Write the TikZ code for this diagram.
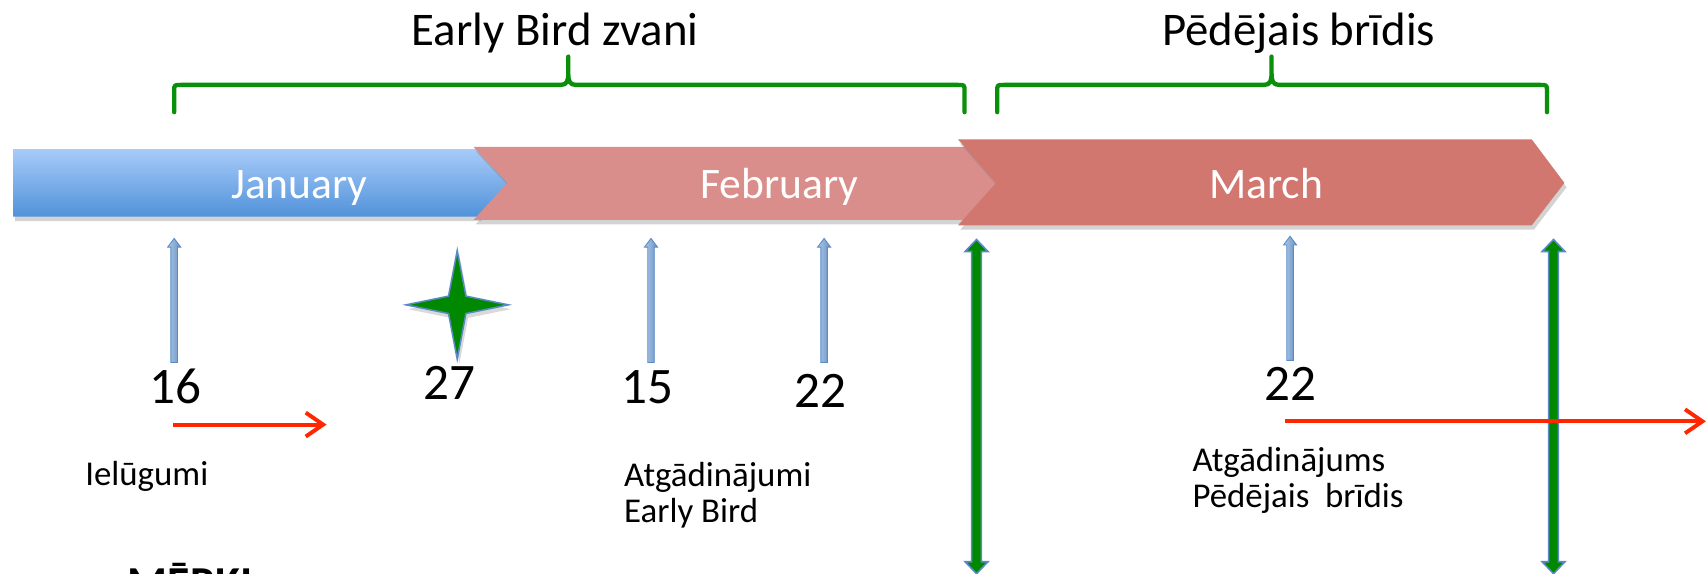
\documentclass[tikz,border=0pt]{standalone}
\usepackage{fontspec}
\setmainfont{Carlito}
\usetikzlibrary{arrows.meta,shadows}
\definecolor{janTop}{HTML}{A8CBF9}
\definecolor{janBot}{HTML}{5092DA}
\definecolor{febC}{HTML}{D98E8B}
\definecolor{marC}{HTML}{D27670}
\definecolor{brGreen}{HTML}{0A8F0A}
\definecolor{arGreen}{HTML}{008800}
\definecolor{arBlue}{HTML}{5A8AC6}
\definecolor{ltBlue}{HTML}{86B3E8}
\definecolor{redA}{HTML}{FF2600}
\tikzset{
  pics/tickup/.style={code={\path[tick] (-3,0) -- (-3,-106) -- (-6,-106) -- (0,-114) -- (6,-106) -- (3,-106) -- (3,0) -- cycle;}},
  pics/dblarrow/.style={code={\path[bigarr] (0,0) -- (10.5,11) -- (4.5,11) -- (4.5,296) -- (10.5,296) -- (0,307) -- (-10.5,296) -- (-4.5,296) -- (-4.5,11) -- (-10.5,11) -- cycle;}},
}
\begin{document}
\begin{tikzpicture}[x=0.5pt,y=-0.5pt,
  bar/.style={drop shadow={shadow xshift=1pt,shadow yshift=-2pt,opacity=0.35}},
  month/.style={text=white,font=\fontsize{20}{24}\selectfont,anchor=base},
  num/.style={font=\fontsize{23.5}{28}\selectfont,anchor=base},
  lbl/.style={font=\fontsize{16}{16.5}\selectfont,anchor=base west,align=left,inner sep=0pt},
  ttl/.style={font=\fontsize{21.5}{26}\selectfont,anchor=base},
  brace/.style={draw=brGreen,line width=2pt,line cap=round,line join=round},
  tick/.style={left color=ltBlue!70!white,right color=ltBlue!80!black,draw=arBlue,line width=0.4pt},
  bigarr/.style={fill=arGreen,draw=arBlue,line width=0.7pt},
  redarr/.style={draw=redA,line width=1.8pt,-{Straight Barb[length=8pt,width=11pt]}},
]
\useasboundingbox (0,0) rectangle (1568,527);

% month bars
\path[bar,top color=janTop,bottom color=janBot] (12,137) -- (440,137) -- (471,168) -- (440,199) -- (12,199) -- cycle;
\path[bar,fill=febC] (435,135) -- (893,135) -- (926,168) -- (893,202) -- (435,202) -- (466,168) -- cycle;
\path[bar,fill=marC] (880,128) -- (1407,128) -- (1437,168) -- (1407,207) -- (880,207) -- (915,168) -- cycle;
\node[month] (jan) at (275,182) {January};
\node[month] (feb) at (716,182) {February};
\node[month] (mar) at (1163,182) {March};

% braces and titles
\draw[brace] (160,103) -- (160,84) .. controls (160,78) .. (166,78) -- (515,78) .. controls (521,78) and (522,74) .. (522,67) -- (522,52) -- (522,67) .. controls (522,74) and (523,78) .. (529,78) -- (880,78) .. controls (886,78) .. (886,84) -- (886,103);
\draw[brace] (916,103) -- (916,84) .. controls (916,78) .. (922,78) -- (1161,78) .. controls (1167,78) and (1168,74) .. (1168,67) -- (1168,52) -- (1168,67) .. controls (1168,74) and (1169,78) .. (1175,78) -- (1415,78) .. controls (1421,78) .. (1421,84) -- (1421,103);
\node[ttl] (t1) at (510,42) {Early Bird zvani};
\node[ttl] (t2) at (1193,42) {Pēdējais brīdis};

% tick arrows
\coordinate (k16) at (160,333);
\coordinate (k15) at (598,333);
\coordinate (k22a) at (757,333);
\coordinate (k22b) at (1185,331);
\foreach \c in {k16,k15,k22a,k22b} \pic at (\c) {tickup};

% star
\path[fill=arGreen,draw=arBlue,line width=0.7pt,drop shadow={shadow xshift=1pt,shadow yshift=-2pt,opacity=0.3}]
  (420,230) -- (428,272) -- (467,280) -- (428,288) -- (420,330) -- (412,288) -- (373,280) -- (412,272) -- cycle;

% green double arrows
\coordinate (g1) at (897,220);
\coordinate (g2) at (1427,220);
\pic at (g1) {dblarrow};
\pic at (g2) {dblarrow};

% numbers
\node[num] (n16) at (161,371) {16};
\node[num] (n27) at (413,367) {27};
\node[num] (n15) at (595,371) {15};
\node[num] (n22a) at (754,374) {22};
\node[num] (n22b) at (1185,368) {22};

% red arrows
\coordinate (r1s) at (159,390);
\coordinate (r1e) at (300,390);
\coordinate (r2s) at (1180,387);
\coordinate (r2e) at (1567,387);
\draw[redarr] (r1s) -- (r1e);
\draw[redarr] (r2s) -- (r2e);

% labels
\node[lbl] (l1) at (78,446) {Ielūgumi};
\node[lbl] (l2) at (573,480) {Atgādinājumi\\Early Bird};
\node[lbl] (l3) at (1095,466) {Atgādinājums\\Pēdējais\ \ brīdis};
\node[font=\bfseries\fontsize{21}{25}\selectfont,anchor=base west,inner sep=0pt] (goal) at (117,550) {MĒRĶI};
\end{tikzpicture}
\end{document}
